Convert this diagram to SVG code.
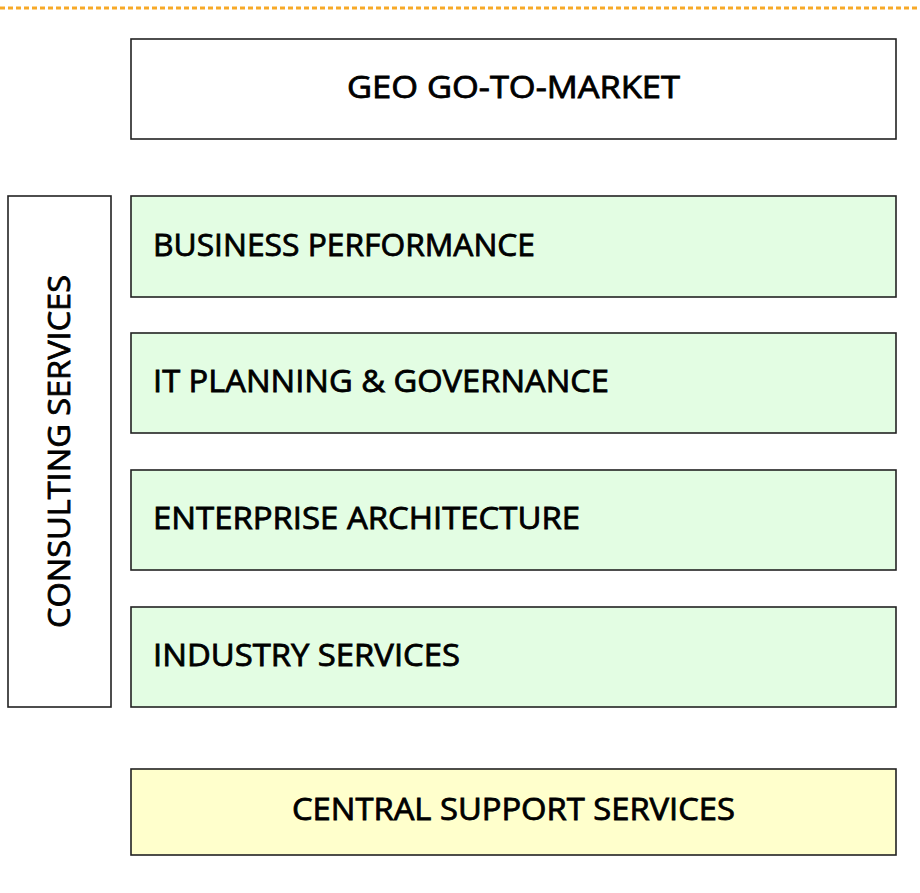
<svg xmlns="http://www.w3.org/2000/svg" width="920" height="893" viewBox="0 0 920 893">
<style>
.box{stroke:#222;stroke-width:1.6}
.w{fill:#fff}
.g{fill:#e3fde3}
.y{fill:#ffffcc}
.t{font-family:"Open Sans","DejaVu Sans",sans-serif;font-size:31px;font-weight:400;fill:#000;stroke:#000;stroke-width:0.8}
</style>
<rect width="920" height="893" fill="#fff"/>
<line x1="0" y1="8" x2="920" y2="8" stroke="#f7a928" stroke-width="3" stroke-dasharray="5 3"/>
<g id="geo"><rect class="box w" x="131" y="39" width="765" height="100"/><text class="t" x="347" y="98" textLength="333" lengthAdjust="spacingAndGlyphs">GEO GO-TO-MARKET</text></g>
<g id="consulting"><rect class="box w" x="8" y="196" width="103" height="511"/><text class="t" transform="translate(70,628) rotate(-90)" textLength="353" lengthAdjust="spacingAndGlyphs">CONSULTING SERVICES</text></g>
<g id="business"><rect class="box g" x="131" y="196" width="765" height="101"/><text class="t" x="153" y="256" textLength="382" lengthAdjust="spacingAndGlyphs">BUSINESS PERFORMANCE</text></g>
<g id="itplanning"><rect class="box g" x="131" y="333" width="765" height="100"/><text class="t" x="153" y="392" textLength="456" lengthAdjust="spacingAndGlyphs">IT PLANNING &amp; GOVERNANCE</text></g>
<g id="enterprise"><rect class="box g" x="131" y="470" width="765" height="100"/><text class="t" x="153" y="529" textLength="427" lengthAdjust="spacingAndGlyphs">ENTERPRISE ARCHITECTURE</text></g>
<g id="industry"><rect class="box g" x="131" y="607" width="765" height="100"/><text class="t" x="153" y="666" textLength="307" lengthAdjust="spacingAndGlyphs">INDUSTRY SERVICES</text></g>
<g id="central"><rect class="box y" x="131" y="769" width="765" height="86"/><text class="t" x="292" y="820" textLength="443" lengthAdjust="spacingAndGlyphs">CENTRAL SUPPORT SERVICES</text></g>
<g id="connectors"/>
</svg>
